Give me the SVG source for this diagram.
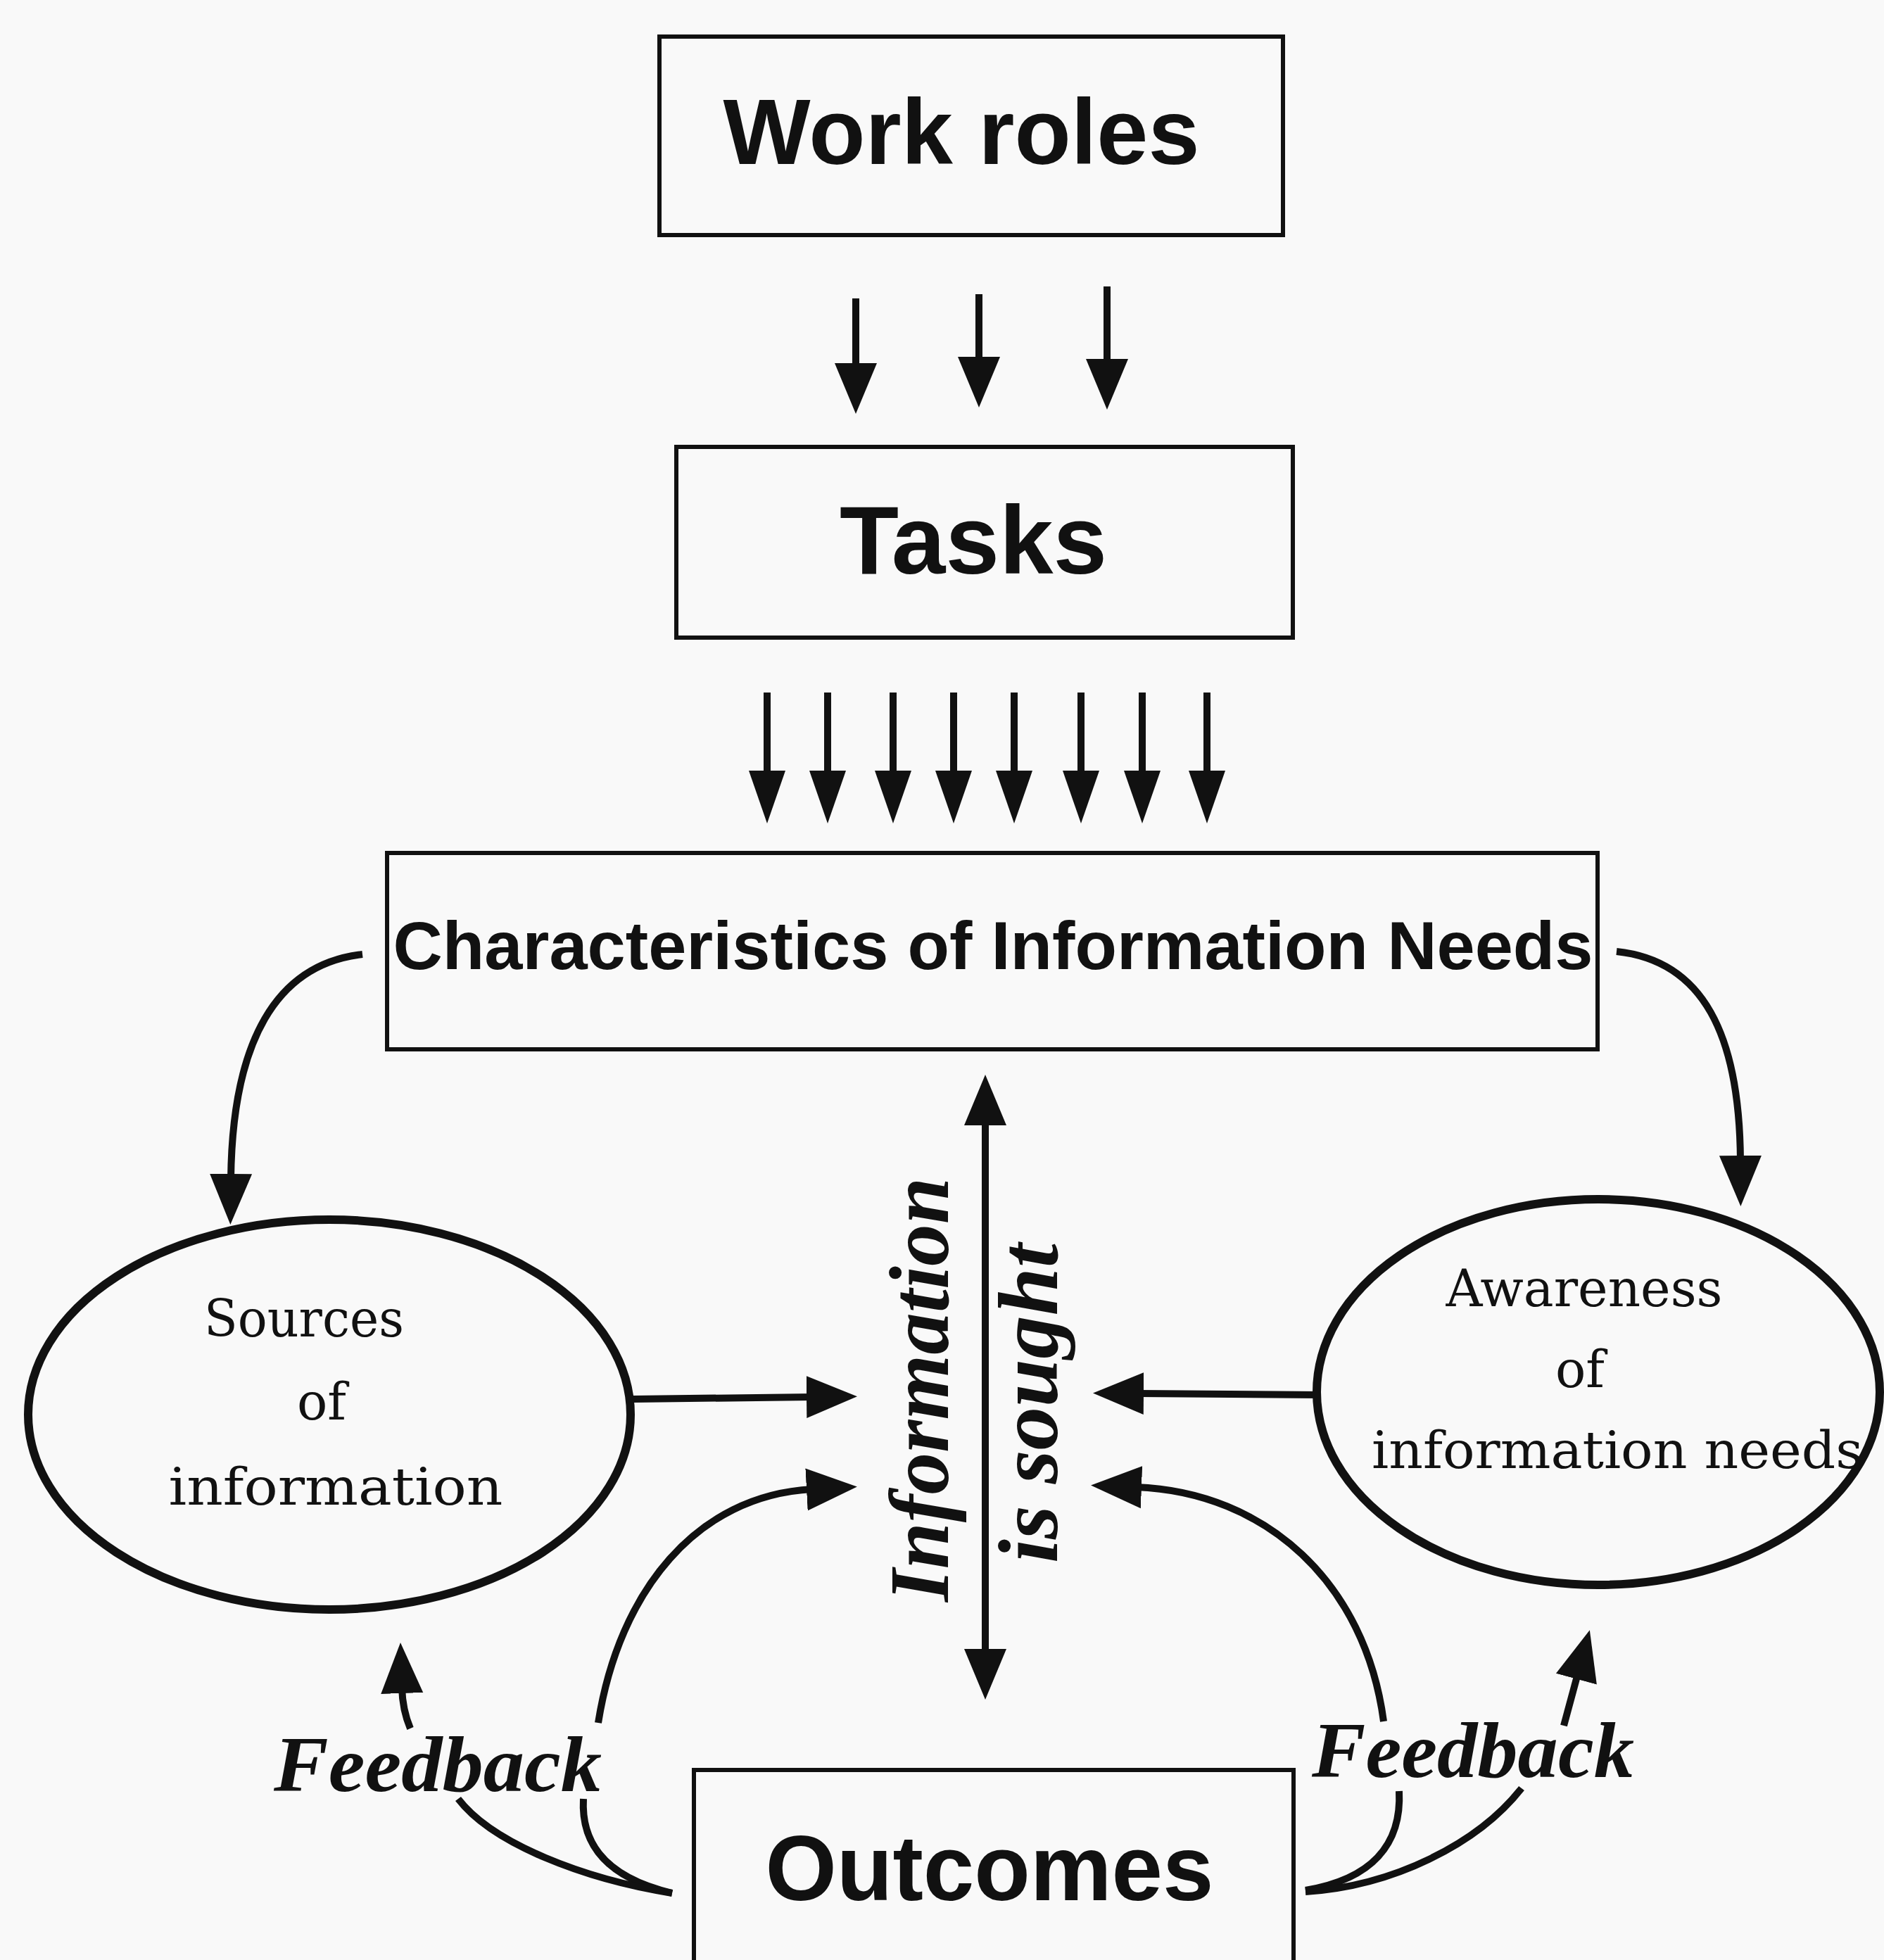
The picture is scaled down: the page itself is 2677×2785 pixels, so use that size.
<svg xmlns="http://www.w3.org/2000/svg" width="2677" height="2785" viewBox="0 0 2677 2785">
  <style>
    .box { fill: none; stroke: #111; stroke-width: 6; }
    .oval { fill: none; stroke: #111; stroke-width: 12; }
    .sans { font-family: "Liberation Sans", Arial, sans-serif; font-weight: bold; fill: #111; }
    .slab { font-family: "DejaVu Serif", "Liberation Serif", serif; fill: #111; }
    .bi { font-family: "Liberation Serif", "Times New Roman", serif; font-weight: bold; font-style: italic; fill: #111; }
    .wire { fill: none; stroke: #111; stroke-width: 10; }
    .arrow { marker-end: url(#head); }
    .slim { marker-end: url(#headSlim); }
  </style>
  <defs>
    <marker id="head" markerUnits="userSpaceOnUse" markerWidth="80" markerHeight="68" viewBox="0 -34 80 68" refX="8" refY="0" orient="auto-start-reverse">
      <path d="M0,-30 L72,0 L0,30 z" fill="#111"/>
    </marker>
    <marker id="headSlim" markerUnits="userSpaceOnUse" markerWidth="80" markerHeight="64" viewBox="0 -32 80 64" refX="8" refY="0" orient="auto">
      <path d="M0,-26 L75,0 L0,26 z" fill="#111"/>
    </marker>
  </defs>

  <rect width="2677" height="2785" fill="#f9f9f9"/>

  <g id="work-roles">
    <rect class="box" x="937" y="52" width="886" height="282"/>
    <text class="sans" x="1366" y="233" font-size="132" text-anchor="middle" textLength="677" lengthAdjust="spacingAndGlyphs">Work roles</text>
  </g>

  <g id="tasks">
    <rect class="box" x="961" y="635" width="876" height="271"/>
    <text class="sans" x="1383" y="815" font-size="138" text-anchor="middle" textLength="380" lengthAdjust="spacingAndGlyphs">Tasks</text>
  </g>

  <g id="characteristics">
    <rect class="box" x="550" y="1212" width="1720" height="279"/>
    <text class="sans" x="1411" y="1377" font-size="96" text-anchor="middle" textLength="1705" lengthAdjust="spacingAndGlyphs">Characteristics of Information Needs</text>
  </g>

  <g id="sources">
    <ellipse class="oval" cx="468" cy="2010" rx="428" ry="277"/>
    <text class="slab" x="432" y="1899" font-size="72" text-anchor="middle" textLength="284" lengthAdjust="spacingAndGlyphs">Sources</text>
    <text class="slab" x="457" y="2017" font-size="72" text-anchor="middle">of</text>
    <text class="slab" x="477" y="2138" font-size="72" text-anchor="middle" textLength="475" lengthAdjust="spacingAndGlyphs">information</text>
  </g>

  <g id="awareness">
    <ellipse class="oval" cx="2271" cy="1978" rx="400" ry="274"/>
    <text class="slab" x="2251" y="1856" font-size="72" text-anchor="middle" textLength="393" lengthAdjust="spacingAndGlyphs">Awareness</text>
    <text class="slab" x="2245" y="1971" font-size="72" text-anchor="middle">of</text>
    <text class="slab" x="2298" y="2086" font-size="72" text-anchor="middle" textLength="698" lengthAdjust="spacingAndGlyphs">information needs</text>
  </g>

  <g id="outcomes">
    <rect class="box" x="986" y="2515" width="852" height="300"/>
    <text class="sans" x="1406" y="2700" font-size="132" text-anchor="middle" textLength="637" lengthAdjust="spacingAndGlyphs">Outcomes</text>
  </g>

  <g id="connectors">
    <!-- work roles to tasks -->
    <path class="wire arrow" d="M1216 424 V524"/>
    <path class="wire arrow" d="M1391 418 V515"/>
    <path class="wire arrow" d="M1573 407 V518"/>

    <!-- tasks to characteristics -->
    <path class="wire slim" d="M1090 984 V1103"/>
    <path class="wire slim" d="M1176 984 V1103"/>
    <path class="wire slim" d="M1269 984 V1103"/>
    <path class="wire slim" d="M1355 984 V1103"/>
    <path class="wire slim" d="M1441 984 V1103"/>
    <path class="wire slim" d="M1536 984 V1103"/>
    <path class="wire slim" d="M1623 984 V1103"/>
    <path class="wire slim" d="M1715 984 V1103"/>

    <!-- characteristics to the two ovals -->
    <path class="wire arrow" d="M515 1356 C392 1370 330 1480 328 1676"/>
    <path class="wire arrow" d="M2297 1352 C2420 1365 2472 1470 2473 1650"/>

    <!-- information is sought: two-way spine -->
    <path class="wire" stroke-width="14" d="M1400 1591 V2351" marker-start="url(#head)" marker-end="url(#head)"/>

    <!-- ovals into the spine -->
    <path class="wire arrow" d="M900 1988 L1154 1985"/>
    <path class="wire arrow" d="M1873 1982 L1617 1980"/>

    <!-- outcomes back into the spine -->
    <path class="wire arrow" d="M850 2448 C880 2260 990 2125 1154 2116"/>
    <path class="wire arrow" d="M1966 2446 C1940 2250 1800 2120 1614 2113"/>
    <path class="wire" d="M829 2556 C826 2610 850 2665 955 2690"/>
    <path class="wire" d="M1988 2545 C1992 2620 1950 2670 1855 2686"/>

    <!-- feedback loops -->
    <path class="wire" d="M955 2690 C830 2670 700 2620 651 2556"/>
    <path class="wire arrow" d="M583 2456 Q572 2430 571 2398"/>
    <path class="wire" d="M1855 2688 C1980 2680 2100 2620 2162 2541"/>
    <path class="wire arrow" d="M2222 2452 Q2236 2400 2242 2378"/>
  </g>

  <g id="labels">
    <text class="bi" font-size="120" transform="translate(1347 2276) rotate(-90)" textLength="603" lengthAdjust="spacingAndGlyphs">Information</text>
    <text class="bi" font-size="120" transform="translate(1502 2221) rotate(-90)" textLength="454" lengthAdjust="spacingAndGlyphs">is sought</text>
    <text class="bi" x="389" y="2545" font-size="113" textLength="466" lengthAdjust="spacingAndGlyphs">Feedback</text>
    <text class="bi" x="1864" y="2525" font-size="113" textLength="458" lengthAdjust="spacingAndGlyphs">Feedback</text>
  </g>
</svg>
